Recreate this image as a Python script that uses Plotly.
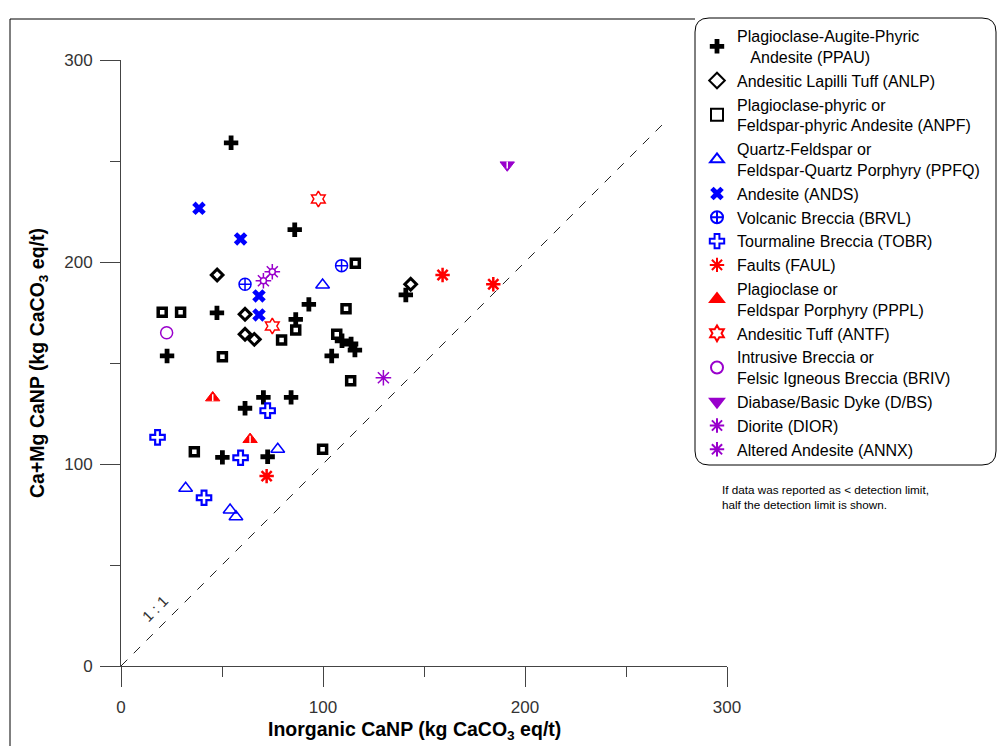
import plotly.graph_objects as go

# ---------------- data ----------------
ppau_x = [54.5, 86.0, 22.8, 47.5, 93.0, 86.5, 104.3, 70.5, 84.2, 61.4, 50.2, 72.6, 109.4, 113.9, 115.8, 141.0]
ppau_y = [259.0, 216.0, 153.5, 174.8, 179.0, 171.6, 153.5, 133.0, 133.0, 127.6, 103.3, 103.6, 161.0, 159.4, 156.4, 183.7]

anlp_x = [47.6, 61.4, 61.4, 66.0, 143.4]
anlp_y = [193.6, 174.1, 164.2, 161.7, 189.0]

anpf_x = [20.4, 29.5, 50.2, 79.5, 86.5, 36.3, 99.8, 116.0, 111.4, 106.8, 113.7]
anpf_y = [175.1, 175.1, 153.1, 161.4, 166.3, 106.1, 107.3, 199.4, 176.9, 164.2, 141.2]

ppfq_x = [99.8, 77.6, 32.0, 54.0, 56.9]
ppfq_y = [188.6, 107.3, 88.0, 77.2, 73.9]

ands_x = [38.6, 59.2, 68.3, 68.3]
ands_y = [226.6, 211.4, 183.2, 173.8]

brvl_x = [61.4, 109.2]
brvl_y = [189.0, 198.2]

tobr_x = [72.6, 18.1, 59.2, 41.1]
tobr_y = [126.4, 113.2, 103.1, 83.3]

faul_x = [72.1, 159.2, 184.3]
faul_y = [94.0, 193.6, 189.0]

pppl_x = [45.4, 63.9]
pppl_y = [132.8, 112.2]

antf_x = [97.7, 74.9]
antf_y = [231.2, 168.3]

briv_x = [22.6]
briv_y = [165.0]

dbs_x = [191.2]
dbs_y = [248.0]

dior_x = [74.9, 70.5]
dior_y = [195.2, 190.7]

annx_x = [129.9]
annx_y = [142.7]

one_to_one = [0, 270]
tick_vals = [0, 100, 200, 300]

NBSP = "\u00a0"
BLUE = "#0000ff"
RED = "#ff0000"
PURPLE = "#9900cc"
FONT = "Liberation Sans, Arial, sans-serif"

fig = go.Figure()

# 1:1 line
fig.add_trace(go.Scatter(x=one_to_one, y=one_to_one, mode="lines",
                         line=dict(color="#222222", width=1, dash="9px,9px"),
                         showlegend=False, hoverinfo="skip"))

def add(name, xs, ys, symbol, color, size, lw, fill=None, showlegend=True):
    fig.add_trace(go.Scatter(
        x=xs, y=ys, mode="markers", name=name, showlegend=showlegend,
        hoverinfo="skip" if not showlegend else None,
        marker=dict(symbol=symbol, size=size, color=fill if fill else color,
                    line=dict(color=color, width=lw))))

add("Plagioclase-Augite-Phyric<br>" + NBSP * 3 + "Andesite (PPAU)", ppau_x, ppau_y, "cross", "black", 12, 0, fill="black")
add("Andesitic Lapilli Tuff (ANLP)", anlp_x, anlp_y, "diamond-open", "black", 9, 3)
add("Plagioclase-phyric or<br>Feldspar-phyric Andesite (ANPF)", anpf_x, anpf_y, "square-open", "black", 8, 3.5)
add("Quartz-Feldspar or<br>Feldspar-Quartz Porphyry (PPFQ)", ppfq_x, ppfq_y, "triangle-up-open", BLUE, 12, 1.5)
add("Andesite (ANDS)", ands_x, ands_y, "x", BLUE, 12, 0, fill=BLUE)
add("Volcanic Breccia (BRVL)", brvl_x, brvl_y, "circle-cross-open", BLUE, 12, 1.5)
add("Tourmaline Breccia (TOBR)", tobr_x, tobr_y, "cross-open", BLUE, 12, 2.2)
add("Faults (FAUL)", faul_x, faul_y, "asterisk-open", RED, 12, 2.5)
add("Plagioclase or<br>Feldspar Porphyry (PPPL)", pppl_x, pppl_y, "triangle-up", RED, 12.5, 1, fill=RED)
add("", pppl_x, pppl_y, "line-ns-open", "white", 5, 1.5, showlegend=False)
add("Andesitic Tuff (ANTF)", antf_x, antf_y, "hexagram-open", RED, 12, 1.5)
add("Intrusive Breccia or<br>Felsic Igneous Breccia (BRIV)", briv_x, briv_y, "circle-open", PURPLE, 12, 1.5)
add("Diabase/Basic Dyke (D/BS)", dbs_x, dbs_y, "triangle-down", PURPLE, 12.5, 1, fill=PURPLE)
add("", dbs_x, dbs_y, "line-ns-open", "white", 5, 1.5, showlegend=False)
add("Diorite (DIOR)", dior_x, dior_y, "asterisk-open", PURPLE, 13, 1.5)
add("", dior_x, dior_y, "circle", PURPLE, 6, 1.5, fill="white", showlegend=False)
add("Altered Andesite (ANNX)", annx_x, annx_y, "asterisk-open", PURPLE, 13, 1.5)

# pixel -> paper helpers (plot area 121..727 x, 60..666 y)
def px(x):
    return (x - 121) / 606.0

def py(y):
    return (666 - y) / 606.0

# legend rounded box
x0, x1, y0, y1, r = px(695), px(996), py(18), py(465), 14 / 606.0
path = (f"M {x0+r},{y0} L {x1-r},{y0} Q {x1},{y0} {x1},{y0-r} "
        f"L {x1},{y1+r} Q {x1},{y1} {x1-r},{y1} L {x0+r},{y1} Q {x0},{y1} {x0},{y1+r} "
        f"L {x0},{y0-r} Q {x0},{y0} {x0+r},{y0} Z")
shapes = [
    dict(type="path", xref="paper", yref="paper", path=path,
         line=dict(color="black", width=1), fillcolor="white", layer="below"),
    # outer frame (left and top)
    dict(type="line", xref="paper", yref="paper", x0=px(10), x1=px(10), y0=py(19), y1=py(760),
         line=dict(color="black", width=1)),
    dict(type="line", xref="paper", yref="paper", x0=px(10), x1=px(695), y0=py(19), y1=py(19),
         line=dict(color="black", width=1)),
]

axis_common = dict(
    range=[0, 300], tickvals=tick_vals, ticks="outside", ticklen=20, tickwidth=1,
    tickcolor="#444444", showline=True, linecolor="#444444", linewidth=1,
    showgrid=False, zeroline=False, tickfont=dict(family=FONT, size=17, color="#333333"),
    minor=dict(dtick=50, ticks="outside", ticklen=10, tickcolor="#444444", tickwidth=1, showgrid=False),
)

fig.update_layout(
    width=997, height=746,
    margin=dict(l=121, r=270, t=60, b=80, autoexpand=False),
    paper_bgcolor="white", plot_bgcolor="white",
    font=dict(family=FONT, color="black"),
    xaxis=dict(**axis_common, ticklabelstandoff=6),
    yaxis=dict(**axis_common, ticklabelstandoff=4,
               title=dict(text="<b>Ca+Mg CaNP (kg CaCO<sub>3</sub> eq/t)</b>",
                          font=dict(family=FONT, size=19.5), standoff=14)),
    shapes=shapes,
    legend=dict(x=px(697), y=py(19), xanchor="left", yanchor="top",
                bgcolor="rgba(0,0,0,0)", borderwidth=0, maxheight=720,
                font=dict(family=FONT, size=16, color="black"),
                itemsizing="constant", tracegroupgap=0),
    annotations=[
        dict(text="<b>Inorganic CaNP (kg CaCO<sub>3</sub> eq/t)</b>",
             xref="paper", yref="paper", x=px(414), y=py(730), xanchor="center", yanchor="middle",
             showarrow=False, font=dict(family=FONT, size=19.5, color="black")),
        dict(text="If data was reported as < detection limit,<br>half the detection limit is shown.",
             xref="paper", yref="paper", x=px(720), y=py(481), xanchor="left", yanchor="top",
             align="left", showarrow=False, font=dict(family=FONT, size=11.7, color="black")),
        dict(text="1 : 1", xref="x", yref="y", x=16.8, y=28.7, textangle=-45, showarrow=False,
             font=dict(family=FONT, size=15, color="#333333")),
    ],
)

fig.write_html("out.html")
